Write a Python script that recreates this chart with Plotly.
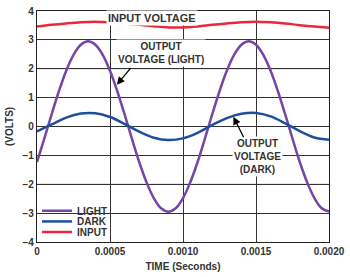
import plotly.graph_objects as go

# ---- data ----
t_light = [0, 0.00005, 0.0001, 0.00015, 0.0002, 0.00025, 0.0003, 0.00035, 0.0004, 0.00045,
           0.0005, 0.00055, 0.0006, 0.00065, 0.0007, 0.00075, 0.0008, 0.00085, 0.0009, 0.00095,
           0.0010, 0.00105, 0.0011, 0.00115, 0.0012, 0.00125, 0.0013, 0.00135, 0.0014, 0.00145,
           0.0015, 0.00155, 0.0016, 0.00165, 0.0017, 0.00175, 0.0018, 0.00185, 0.0019, 0.00195, 0.0020]
light = [-1.23, -0.42, 0.42, 1.22, 1.93, 2.48, 2.83, 2.95, 2.83, 2.48,
         1.93, 1.22, 0.42, -0.42, -1.23, -1.93, -2.48, -2.83, -2.95, -2.83,
         -2.48, -1.93, -1.23, -0.42, 0.42, 1.22, 1.93, 2.48, 2.83, 2.95,
         2.83, 2.48, 1.93, 1.22, 0.42, -0.42, -1.23, -1.93, -2.48, -2.83, -2.95]

t_coarse = [0, 0.0001, 0.0002, 0.0003, 0.0004, 0.0005, 0.0006, 0.0007, 0.0008, 0.0009, 0.0010,
            0.0011, 0.0012, 0.0013, 0.0014, 0.0015, 0.0016, 0.0017, 0.0018, 0.0019, 0.0020]
dark = [-0.17, 0.07, 0.31, 0.45, 0.46, 0.33, 0.09, -0.18, -0.39, -0.47, -0.41,
        -0.22, 0.05, 0.29, 0.44, 0.47, 0.35, 0.11, -0.16, -0.38, -0.46]
inp = [3.46, 3.52, 3.57, 3.61, 3.63, 3.61, 3.57, 3.52, 3.47, 3.43, 3.43,
       3.46, 3.52, 3.57, 3.61, 3.63, 3.61, 3.57, 3.51, 3.46, 3.42]

x_tickvals = [0, 0.0005, 0.0010, 0.0015, 0.0020]
x_ticktext = ["0", "0.0005", "0.0010", "0.0015", "0.0020"]
y_tickvals = [-4, -3, -2, -1, 0, 1, 2, 3, 4]
y_ticktext = ["\u22124", "\u22123", "\u22122", "\u22121", "0", "1", "2", "3", "4"]

PURPLE = "#7446a6"
BLUE = "#1e4f9c"
RED = "#e8283c"
TXT = "#333333"
FONT = "Liberation Sans"

fig = go.Figure()
fig.add_trace(go.Scatter(x=t_light, y=light, mode="lines", name="<b>LIGHT</b>", legend="legend",
                         line=dict(color=PURPLE, width=2.5, shape="spline")))
fig.add_trace(go.Scatter(x=t_coarse, y=dark, mode="lines", name="<b>DARK</b>", legend="legend2",
                         line=dict(color=BLUE, width=2.5, shape="spline")))
fig.add_trace(go.Scatter(x=t_coarse, y=inp, mode="lines", name="<b>INPUT</b>", legend="legend3",
                         line=dict(color=RED, width=2.5, shape="spline")))

# lighter grid lines at +/-2
for yv in (2, -2):
    fig.add_shape(type="line", xref="paper", x0=0, x1=1, yref="y", y0=yv, y1=yv,
                  line=dict(color="#a0a0a0", width=1), layer="below")

fig.add_annotation(x=0.00079, y=3.76, text="<b>INPUT VOLTAGE</b>", showarrow=False,
                   bgcolor="white", font=dict(size=11, color=TXT, family=FONT))
fig.add_annotation(x=0.000852, y=2.55, text="<b>OUTPUT<br>VOLTAGE (LIGHT)</b>", showarrow=False,
                   bgcolor="white", font=dict(size=10, color=TXT, family=FONT))
fig.add_annotation(x=0.000547, y=1.45, ax=15, ay=-18, text="", showarrow=True,
                   arrowhead=2, arrowsize=1.2, arrowwidth=1.3, arrowcolor="black")
fig.add_annotation(x=0.001507, y=-1.05, text="<b>OUTPUT<br>VOLTAGE<br>(DARK)</b>", showarrow=False,
                   bgcolor="white", font=dict(size=10, color=TXT, family=FONT))
fig.add_annotation(x=0.001345, y=0.34, ax=11, ay=22, text="", showarrow=True,
                   arrowhead=2, arrowsize=1.2, arrowwidth=1.3, arrowcolor="black")

leg_common = dict(x=0.0, xanchor="left", yanchor="middle", bgcolor="rgba(0,0,0,0)",
                  font=dict(size=10, color=TXT, family=FONT), itemwidth=30)

fig.update_layout(
    width=350, height=277,
    margin=dict(l=37, r=17, t=5, b=35),
    paper_bgcolor="white", plot_bgcolor="white",
    font=dict(family=FONT, size=10, color=TXT),
    showlegend=True,
    legend=dict(y=0.135, **leg_common),
    legend2=dict(y=0.089, **leg_common),
    legend3=dict(y=0.043, **leg_common),
    xaxis=dict(range=[0, 0.002], tickvals=x_tickvals, ticktext=[f"<b>{s}</b>" for s in x_ticktext],
               showgrid=True, gridcolor="#333333", gridwidth=1, zeroline=False,
               showline=True, linecolor="#222222", linewidth=1.2, mirror=True,
               ticks="", tickfont=dict(size=10, color=TXT, family=FONT),
               title=dict(text="<b>TIME (Seconds)</b>", font=dict(size=10, color=TXT, family=FONT),
                          standoff=6)),
    yaxis=dict(range=[-4, 4], tickvals=y_tickvals, ticktext=[f"<b>{s}</b>" for s in y_ticktext],
               showgrid=True, gridcolor="#333333", gridwidth=1, zeroline=False,
               showline=True, linecolor="#222222", linewidth=1.2, mirror=True,
               ticks="", tickfont=dict(size=10, color=TXT, family=FONT),
               title=dict(text="<b>(VOLTS)</b>", font=dict(size=10, color=TXT, family=FONT),
                          standoff=6)),
)

fig.write_html("out.html")
